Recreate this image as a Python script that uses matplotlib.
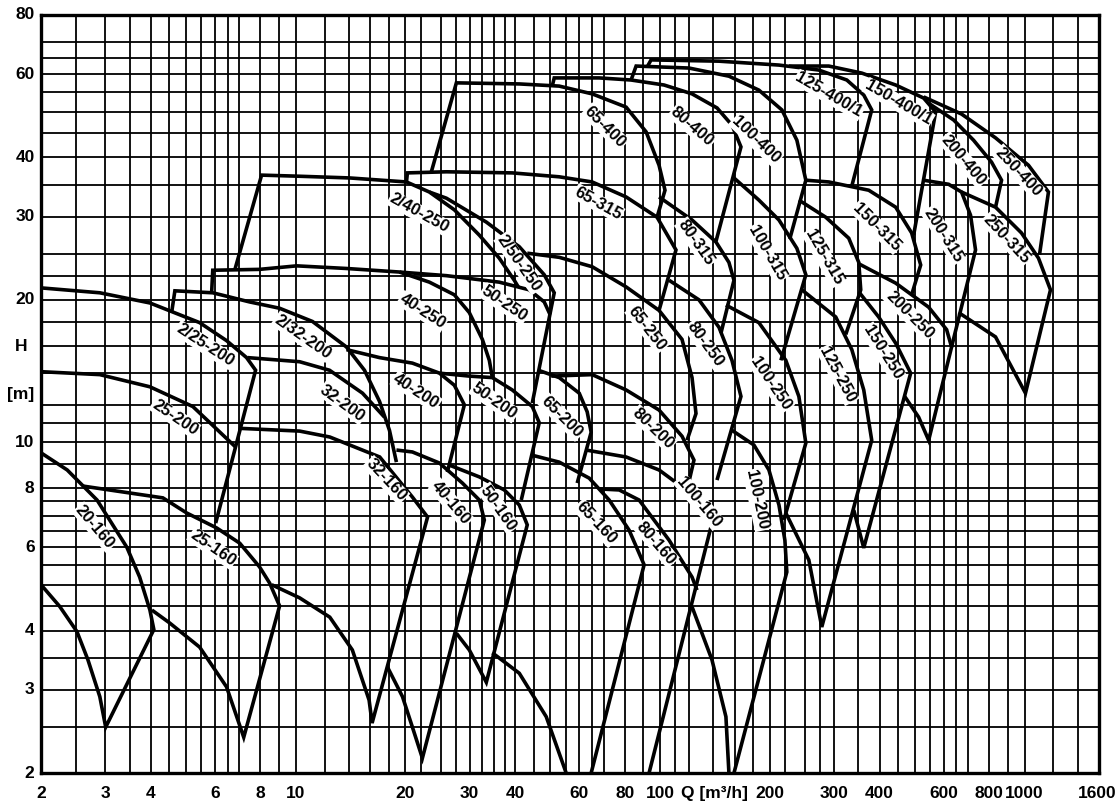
import matplotlib.pyplot as plt

# log paper grid
x_grid = [2, 2.5, 3, 3.5, 4, 4.5, 5, 5.5, 6, 6.5, 7, 8, 9, 10, 12, 14, 16, 18, 20, 22, 25, 27.5,
          30, 32.5, 35, 37.5, 40, 45, 50, 55, 60, 65, 70, 80, 90, 100, 110, 120, 140, 160, 180,
          200, 220, 250, 275, 300, 350, 400, 450, 500, 550, 600, 650, 700, 800, 900, 1000,
          1200, 1400, 1600]
y_grid = [2, 2.5, 3, 3.5, 4, 4.5, 5, 5.5, 6, 6.5, 7, 7.5, 8, 9, 10, 11, 12, 14, 16, 18, 20,
          22.5, 25, 30, 35, 40, 45, 50, 55, 60, 65, 70, 80]

x_ticks = [2, 3, 4, 6, 8, 10, 20, 30, 40, 60, 80, 100, 200, 300, 400, 600, 800, 1000, 1600]
y_ticks = [2, 3, 4, 6, 8, 10, 20, 30, 40, 60, 80]

# pump fields, each drawn as one stroke (Q in m3/h, H in m)
# --- 160 series
q_20_160 = [2.0, 2.36, 2.85, 3.44, 3.73, 3.98, 4.08, 3.01, 2.90, 2.69, 2.51, 2.25, 2.0]
h_20_160 = [9.5, 8.74, 7.55, 6.0, 5.19, 4.42, 4.02, 2.5, 2.9, 3.47, 3.98, 4.5, 5.0]
q_25_160 = [2.61, 4.32, 5.02, 6.07, 7.02, 7.96, 8.48, 9.03, 7.2, 6.46, 5.45, 4.51, 4.03]
h_25_160 = [8.08, 7.63, 7.09, 6.59, 6.12, 5.45, 5.04, 4.51, 2.38, 3.04, 3.69, 4.15, 4.42]
q_32_160 = [7.06, 10.25, 12.4, 17.0, 20.9, 23.0, 16.2, 15.9, 14.3, 12.4, 10.25, 8.59]
h_32_160 = [10.7, 10.56, 10.26, 9.31, 7.66, 6.95, 2.55, 2.85, 3.64, 4.27, 4.69, 5.0]
q_40_160 = [18.89, 20.9, 24.79, 28.66, 31.9, 32.92, 22.26, 20.9, 19.63, 17.85]
h_40_160 = [9.63, 9.54, 9.04, 8.20, 7.55, 6.85, 2.15, 2.5, 2.90, 3.35]
q_50_160 = [26.39, 31.9, 37.35, 41.06, 43.18, 33.34, 29.94, 27.59]
h_50_160 = [8.95, 8.45, 7.93, 7.37, 6.69, 3.11, 3.64, 3.95]
q_65_160 = [44.3, 52.84, 63.85, 72.46, 82.18, 90.35, 64.66]
h_65_160 = [9.40, 9.08, 8.40, 7.55, 6.52, 5.51, 2.0]
q_65_160_min = [34.63, 41.06, 48.68, 55.22]
h_65_160_min = [3.59, 3.25, 2.63, 2.0]
q_80_160 = [68.02, 77.2, 87.54, 105.8, 122.3, 126.2]
h_80_160 = [7.97, 7.93, 7.55, 6.21, 5.19, 4.87]
q_100_160 = [62.6, 80.64, 99.3, 117.8, 131.9, 138.7, 93.23]
h_100_160 = [9.63, 9.31, 8.74, 7.93, 7.37, 6.75, 2.0]
q_100_160_min = [122.3, 138.7, 151.5, 154.4]
h_100_160_min = [4.49, 3.47, 2.63, 2.0]

# --- 200 series
q_25_200 = [2.0, 2.9, 3.98, 5.22, 6.84]
h_25_200 = [14.1, 13.9, 13.1, 11.9, 9.77]
q_2_25_200 = [2.0, 2.9, 3.98, 5.45, 6.46, 7.33, 7.76, 6.03]
h_2_25_200 = [21.2, 20.7, 19.7, 17.9, 16.4, 15.1, 14.2, 6.75]
q_2_32_200 = [4.57, 4.66, 5.92, 7.47, 9.03, 11.12, 13.78, 15.44, 16.98, 18.08, 18.89]
h_2_32_200 = [18.9, 20.9, 20.7, 19.8, 19.2, 18.0, 15.9, 14.2, 12.2, 10.6, 9.08]
q_32_200 = [7.38, 10.25, 12.38, 15.25, 17.52]
h_32_200 = [15.1, 14.8, 14.2, 12.7, 11.3]
q_40_200 = [13.78, 16.98, 20.9, 24.79, 27.24, 29.02, 26.06]
h_40_200 = [15.7, 15.1, 14.7, 14.0, 13.2, 12.0, 8.65]
q_50_200 = [24.79, 29.94, 34.63, 39.28, 44.57, 46.58, 41.58]
h_50_200 = [14.0, 13.8, 13.7, 12.9, 11.9, 11.0, 7.55]
q_65_200 = [46.3, 52.84, 59.96, 63.05, 64.66, 59.2]
h_65_200 = [14.2, 13.7, 12.7, 11.6, 10.5, 8.20]
q_80_200 = [50.24, 65.07, 80.64, 99.3, 114.8, 123.8, 118.5]
h_80_200 = [13.8, 13.9, 12.9, 11.7, 10.3, 9.17, 7.93]
q_100_200 = [157.4, 180.8, 198.8, 211.8, 219.9, 222.6, 159.4]
h_100_200 = [10.6, 9.87, 8.74, 7.37, 6.21, 5.32, 2.0]

# --- 250 series
q_40_250 = [19.26, 23.27, 27.24, 29.94, 32.51, 33.98, 34.63]
h_40_250 = [22.9, 21.8, 20.5, 18.8, 16.5, 14.9, 13.7]
q_50_250 = [5.88, 5.92, 7.96, 10.06, 13.78, 19.26, 25.91, 36.18, 43.73, 48.07, 49.9]
h_50_250 = [20.8, 23.1, 23.2, 23.6, 23.3, 22.9, 22.5, 21.8, 21.0, 19.8, 18.6]
q_2_40_250 = [6.80, 8.06, 10.25, 14.05, 20.13, 23.27, 27.24, 31.9, 36.18, 39.78, 40.8]
h_2_40_250 = [23.1, 36.7, 36.5, 36.2, 35.5, 33.8, 31.0, 27.4, 24.5, 22.0, 21.3]
q_2_50_250 = [23.27, 25.91, 33.34, 41.06, 48.07, 51.2, 44.57]
h_2_50_250 = [33.8, 32.8, 29.2, 25.9, 22.6, 20.7, 12.1]
q_65_250 = [43.18, 52.84, 65.07, 80.64, 99.3, 114.8, 122.3, 125.4, 118.5]
h_65_250 = [25.1, 24.6, 23.5, 21.3, 19.0, 16.5, 13.7, 11.5, 10.1]
q_80_250 = [105.8, 127.8, 145.0, 157.4, 166.6, 143.2]
h_80_250 = [22.0, 20.0, 17.5, 14.9, 12.5, 8.32]
q_100_250 = [151.5, 186.6, 221.2, 240.2, 251.0, 218.5]
h_100_250 = [19.5, 17.9, 14.9, 12.5, 9.96, 6.85]
q_125_250 = [244.8, 303.2, 335.6, 361.9, 380.6, 277.6, 255.8, 221.2]
h_125_250 = [21.0, 18.4, 15.7, 12.9, 10.1, 4.07, 5.64, 7.09]
q_150_250 = [350.7, 397.8, 442.8, 486.8, 361.9, 339.8]
h_150_250 = [20.8, 18.4, 16.2, 14.0, 5.98, 7.19]
q_200_250 = [348.5, 442.8, 545.4, 611, 630.4, 545.4, 512, 468.8]
h_200_250 = [23.9, 21.7, 19.3, 17.3, 15.9, 10.1, 11.3, 12.5]

# --- 315 series
q_65_315 = [20.13, 20.25, 25.91, 39.28, 52.84, 65.07, 80.64, 98.06, 110.5, 99.3]
h_65_315 = [35.5, 37.1, 37.3, 37.1, 36.4, 35.5, 33.0, 29.9, 25.5, 19.0]
q_80_315 = [99.3, 122.3, 142.3, 154.4, 159.4, 146.8]
h_80_315 = [33.0, 29.5, 26.5, 24.0, 22.0, 17.0]
q_100_315 = [159.4, 186.6, 211.8, 237.2, 251.0, 214.4]
h_100_315 = [36.2, 32.5, 29.5, 25.7, 22.6, 14.9]
q_125_315 = [240.2, 284.7, 329.2, 350.7, 355.1, 323]
h_125_315 = [32.5, 29.9, 27.0, 24.0, 21.0, 16.9]
q_150_315 = [251.0, 290.2, 373.5, 442.8, 489.8, 518.6, 489.8]
h_150_315 = [35.8, 35.5, 34.1, 31.4, 27.7, 23.7, 20.5]
q_200_315 = [528.4, 618.8, 671.4, 710.6, 733.4, 630.4]
h_200_315 = [35.8, 35.1, 33.8, 30.2, 25.5, 15.9]
q_250_315 = [671.4, 832.2, 980.4, 1091.6, 1177.6, 1005.6, 832.2, 659]
h_250_315 = [33.8, 31.4, 27.7, 24.5, 21.0, 12.7, 16.7, 18.8]

# --- 400 series
q_65_400 = [23.56, 27.59, 41.06, 52.84, 65.07, 80.64, 91.5, 99.3, 103.1, 98.06]
h_65_400 = [37.3, 57.5, 57.2, 56.6, 54.5, 51.1, 45.3, 38.5, 34.1, 29.9]
q_80_400 = [50.56, 51.2, 68.02, 83.22, 102.5, 122.3, 143.2, 157.4, 166.6, 142.3]
h_80_400 = [56.6, 58.9, 58.9, 58.3, 56.9, 54.5, 50.9, 46.8, 42.1, 26.6]
q_100_400 = [83.22, 85.9, 120.0, 154.4, 186.6, 215.8, 237.2, 251.0, 226.8]
h_100_400 = [58.3, 62.4, 61.8, 59.4, 55.5, 50.4, 43.5, 35.8, 26.9]
q_125_400 = [92.07, 94.42, 145.0, 211.8, 272.4, 325.2, 361.9, 380.6, 335.6]
h_125_400 = [62.1, 64.3, 63.9, 62.7, 61.2, 58.3, 54.2, 50.4, 34.8]
q_150_400 = [225.5, 290.2, 357.4, 442.8, 528.4, 570, 496]
h_150_400 = [62.4, 62.4, 60.3, 56.9, 53.4, 49.9, 27.4]
q_200_400 = [548.8, 638.6, 724.2, 811.4, 864.4, 832.2]
h_200_400 = [51.9, 48.0, 43.5, 39.1, 35.8, 31.4]
q_250_400 = [528.4, 671.4, 832.2, 1024.8, 1162.6, 1098.6]
h_250_400 = [53.7, 49.4, 44.0, 38.5, 33.8, 24.9]

strokes = [
    (q_20_160, h_20_160), (q_25_160, h_25_160), (q_32_160, h_32_160), (q_40_160, h_40_160),
    (q_50_160, h_50_160), (q_65_160, h_65_160), (q_65_160_min, h_65_160_min),
    (q_80_160, h_80_160), (q_100_160, h_100_160), (q_100_160_min, h_100_160_min),
    (q_25_200, h_25_200), (q_2_25_200, h_2_25_200), (q_2_32_200, h_2_32_200),
    (q_32_200, h_32_200), (q_40_200, h_40_200), (q_50_200, h_50_200), (q_65_200, h_65_200),
    (q_80_200, h_80_200), (q_100_200, h_100_200),
    (q_40_250, h_40_250), (q_50_250, h_50_250), (q_2_40_250, h_2_40_250),
    (q_2_50_250, h_2_50_250), (q_65_250, h_65_250), (q_80_250, h_80_250),
    (q_100_250, h_100_250), (q_125_250, h_125_250), (q_150_250, h_150_250),
    (q_200_250, h_200_250),
    (q_65_315, h_65_315), (q_80_315, h_80_315), (q_100_315, h_100_315),
    (q_125_315, h_125_315), (q_150_315, h_150_315), (q_200_315, h_200_315),
    (q_250_315, h_250_315),
    (q_65_400, h_65_400), (q_80_400, h_80_400), (q_100_400, h_100_400),
    (q_125_400, h_125_400), (q_150_400, h_150_400), (q_200_400, h_200_400),
    (q_250_400, h_250_400),
]

# curve labels
labels = ["20-160", "25-160", "32-160", "40-160", "50-160", "65-160", "80-160", "100-160",
          "25-200", "2/25-200", "2/32-200", "32-200", "40-200", "50-200", "65-200", "80-200",
          "100-200", "40-250", "50-250", "2/40-250", "2/50-250", "65-250", "80-250", "100-250",
          "125-250", "150-250", "200-250", "65-315", "80-315", "100-315", "125-315", "150-315",
          "200-315", "250-315", "65-400", "80-400", "100-400", "125-400/1", "150-400/1",
          "200-400", "250-400"]
label_q = [2.81, 5.92, 17.7, 26.7, 36.0, 66.7, 97.5, 127.8,
           4.66, 5.63, 10.44, 13.44, 21.4, 35.1, 53.8, 95.6,
           184.2, 22.26, 37.35, 21.8, 41.06, 92.07, 132.7, 201.2,
           307, 408, 483.8, 67.6, 125.4, 196.2, 281.2, 392.8,
           599.6, 892, 70.6, 122.3, 183, 290.2, 451,
           680, 962]
label_h = [6.62, 5.98, 8.32, 7.44, 7.26, 6.75, 6.12, 7.48,
           11.3, 16.06, 16.7, 12.1, 12.8, 12.2, 11.3, 10.7,
           7.55, 18.9, 19.6, 30.5, 23.9, 17.4, 16.1, 13.3,
           13.9, 15.5, 18.6, 32.0, 26.4, 25.1, 24.6, 28.5,
           27.4, 26.9, 46.4, 46.4, 43.5, 54.2, 52.1,
           39.5, 37.3]
label_rot = [-50, -35, -47, -50, -55, -47, -49, -50,
             -34, -33, -35, -36, -33, -35, -45, -44,
             -78, -33, -34, -29, -55, -52, -54, -56,
             -62, -58, -45, -29, -55, -60, -60, -45,
             -58, -47, -45, -41, -44, -30, -30,
             -50, -47]

fig = plt.figure(figsize=(11.17, 8.05), dpi=100)
ax = fig.add_axes([41 / 1117, 32 / 805, 1058 / 1117, 758 / 805])
ax.set_xscale('log')
ax.set_yscale('log')
ax.set_xlim(2, 1600)
ax.set_ylim(2, 80)

for x in x_grid:
    ax.axvline(x, color='black', lw=1.3, zorder=1)
for y in y_grid:
    ax.axhline(y, color='black', lw=1.3, zorder=1)

for q, h in strokes:
    ax.plot(q, h, color='black', lw=2.6, solid_joinstyle='miter', solid_capstyle='butt',
            zorder=3)

lab_font = dict(fontsize=12, fontweight='bold', family=['Liberation Sans', 'DejaVu Sans'])
for name, q, h, r in zip(labels, label_q, label_h, label_rot):
    ax.text(q, h, name, rotation=r, ha='center', va='center', rotation_mode='anchor',
            zorder=4, bbox=dict(facecolor='white', edgecolor='none', pad=0.6), **lab_font)

ax.set_xticks([])
ax.set_yticks([])
ax.minorticks_off()
for s in ax.spines.values():
    s.set_linewidth(2.4)
    s.set_zorder(5)

tick_font = dict(fontsize=12.5, fontweight='bold', family=['Liberation Sans', 'DejaVu Sans'])
for x in x_ticks:
    xt = 1585 if x == 1600 else x
    ax.text(xt, 1.88, str(x), ha='center', va='top', clip_on=False, **tick_font)
ax.text(141, 1.88, 'Q [m³/h]', ha='center', va='top', clip_on=False, **tick_font)
for y in y_ticks:
    ax.text(1.92, y, str(y), ha='right', va='center', clip_on=False, **tick_font)
ax.text(1.76, 15.9, 'H', ha='center', va='center', clip_on=False, **tick_font)
ax.text(1.76, 12.6, '[m]', ha='center', va='center', clip_on=False, **tick_font)

fig.savefig('out.png', dpi=100)
